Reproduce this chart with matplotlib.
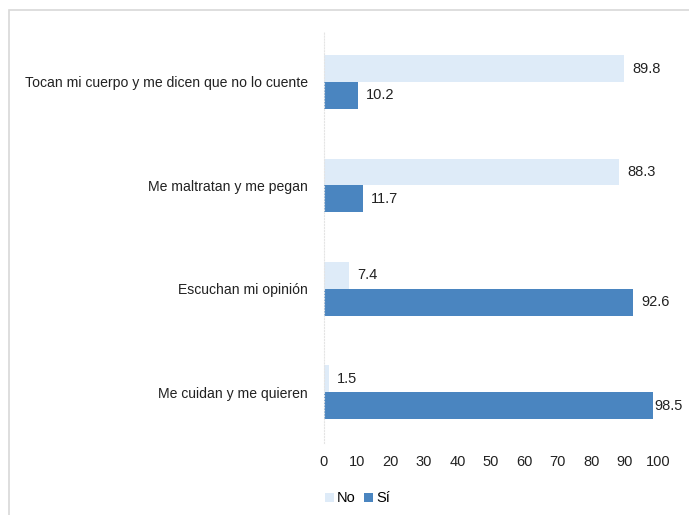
import matplotlib.pyplot as plt
import numpy as np
from matplotlib.patches import Rectangle

plt.rcParams['font.family'] = ['Liberation Sans', 'DejaVu Sans']

categorias = [
    'Tocan mi cuerpo y me dicen que no lo cuente',
    'Me maltratan y me pegan',
    'Escuchan mi opinión',
    'Me cuidan y me quieren',
]
valores_no = [89.8, 88.3, 7.4, 1.5]
valores_si = [10.2, 11.7, 92.6, 98.5]
ticks_x = list(range(0, 101, 10))

color_no = '#deebf8'
color_si = '#4a85c0'

fig = plt.figure(figsize=(6.89, 5.15), dpi=100)
ax = fig.add_axes([0.470, 0.140, 0.485, 0.798])

y = np.arange(len(categorias))
h = 0.26
b1 = ax.barh(y - h / 2, valores_no, height=h, color=color_no, label='No')
b2 = ax.barh(y + h / 2, valores_si, height=h, color=color_si, label='Sí')

for bars, vals in [(b1, valores_no), (b2, valores_si)]:
    for rect, v in zip(bars, vals):
        # etiqueta pegada a la barra si no hay espacio
        off = 0.4 if v > 95 else 2.5
        ax.text(v + off, rect.get_y() + rect.get_height() / 2, f'{v:.1f}',
                va='center', ha='left', fontsize=10.5, color='#222222')

ax.set_yticks(y)
ax.set_yticklabels(categorias, fontsize=10.1, color='#222222')
ax.set_ylim(len(categorias) - 0.51, -0.484)
ax.set_xlim(0, 100)
ax.set_xticks(ticks_x)
ax.tick_params(axis='x', labelsize=10.5, length=0, pad=9, colors='#222222')
ax.tick_params(axis='y', length=0, pad=11.5)

for s in ['top', 'right', 'bottom']:
    ax.spines[s].set_visible(False)
ax.spines['left'].set_color('#e4e4e4')
ax.spines['left'].set_linestyle(':')

leg = fig.legend(handles=[b1, b2], loc='lower left', bbox_to_anchor=(0.453, -0.007),
                 ncol=2, frameon=False, fontsize=10.5, handlelength=0.6,
                 handleheight=0.6, handletextpad=0.2, columnspacing=0.6)

# marco exterior
fig.patches.append(Rectangle((9 / 689, -0.01), 1.0, 1 - 10 / 515 + 0.01,
                             transform=fig.transFigure, fill=False,
                             edgecolor='#d8d8d8', linewidth=1.2))

fig.savefig('out.png', dpi=100)
